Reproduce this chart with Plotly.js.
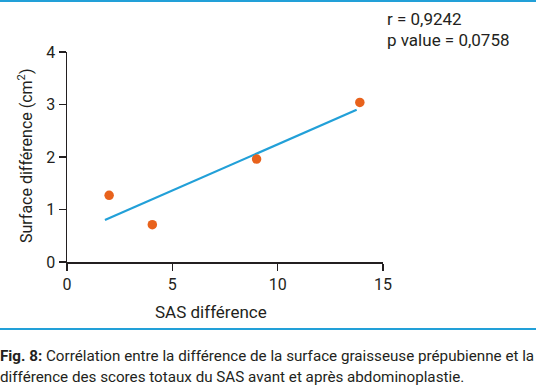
<!DOCTYPE html>
<html>
<head>
<meta charset="utf-8">
<script src="https://cdn.plot.ly/plotly-3.0.1.min.js"></script>
<style>html,body{margin:0;padding:0;background:#fff;}#chart{width:536px;height:386px;}</style>
</head>
<body>
<div id="chart"></div>
<script>
const sasDiff = [2, 4.05, 9, 13.9];
const surfaceDiff = [1.27, 0.71, 1.96, 3.04];
const fitX = [1.8, 13.75];
const fitY = [0.8, 2.9];
const xTicks = [0, 5, 10, 15];
const yTicks = [0, 1, 2, 3, 4];
const statsText = ['r = 0,9242', 'p value = 0,0758'];
const xTitle = 'SAS différence';
const yTitle = 'Surface différence (cm<sup>2</sup>)';
const caption1 = '<b>Fig. 8:</b> Corrélation entre la différence de la surface graisseuse prépubienne et la';
const caption2 = 'différence des scores totaux du SAS avant et après abdominoplastie.';

const W = 536, H = 386;
const px = x => x / W;
const py = y => 1 - y / H;
const FONT = 'Roboto, "DejaVu Sans", sans-serif';
const ORANGE = '#e8621c';
const BLUE = '#22a0d8';
const TXT = '#231f20';

const traces = [
  {x: fitX, y: fitY, mode: 'lines', line: {color: BLUE, width: 2.2}, hoverinfo: 'skip'},
  {x: sasDiff, y: surfaceDiff, mode: 'markers', marker: {color: ORANGE, size: 9.5}}
];

const layout = {
  width: W, height: H,
  margin: {l: 0, r: 0, t: 0, b: 0},
  paper_bgcolor: '#fff', plot_bgcolor: '#fff',
  showlegend: false,
  font: {family: FONT, color: TXT},
  xaxis: {
    domain: [px(67), px(383)], range: [0, 15],
    tickvals: xTicks, ticktext: xTicks.map(String),
    showgrid: false, zeroline: false, showline: true, linecolor: TXT, linewidth: 1.5,
    ticks: 'outside', ticklen: 7, tickwidth: 1.5, tickcolor: TXT,
    tickfont: {size: 16, color: TXT, family: FONT}
  },
  yaxis: {
    domain: [py(262), py(52)], range: [0, 4],
    tickvals: yTicks, ticktext: yTicks.map(String),
    showgrid: false, zeroline: false, showline: true, linecolor: TXT, linewidth: 1.5,
    ticks: 'outside', ticklen: 7, tickwidth: 1.5, tickcolor: TXT,
    tickfont: {size: 16, color: TXT, family: FONT}
  },
  shapes: [
    {type: 'rect', xref: 'paper', yref: 'paper', x0: 0, x1: 1, y0: py(2), y1: 1, fillcolor: BLUE, line: {width: 0}},
    {type: 'line', xref: 'paper', yref: 'paper', x0: 0, x1: 1, y0: py(329), y1: py(329), line: {color: BLUE, width: 2}}
  ],
  annotations: [
    {xref: 'paper', yref: 'paper', x: px(385), y: py(19), xanchor: 'left', yanchor: 'middle', text: statsText[0], showarrow: false, font: {size: 17, color: TXT}},
    {xref: 'paper', yref: 'paper', x: px(385), y: py(40), xanchor: 'left', yanchor: 'middle', text: statsText[1], showarrow: false, font: {size: 17, color: TXT}},
    {xref: 'paper', yref: 'paper', x: px(211), y: py(312), xanchor: 'center', yanchor: 'middle', text: xTitle, showarrow: false, font: {size: 17, color: TXT}},
    {xref: 'paper', yref: 'paper', x: px(25), y: py(156), xanchor: 'center', yanchor: 'middle', text: yTitle, textangle: -90, showarrow: false, font: {size: 16, color: TXT}},
    {xref: 'paper', yref: 'paper', x: px(-2), y: py(356), xanchor: 'left', yanchor: 'middle', text: caption1, showarrow: false, font: {size: 15.2, color: TXT}},
    {xref: 'paper', yref: 'paper', x: px(-2), y: py(377), xanchor: 'left', yanchor: 'middle', text: caption2, showarrow: false, font: {size: 15.2, color: TXT}}
  ]
};

Plotly.newPlot('chart', traces, layout, {staticPlot: true, displayModeBar: false});
</script>
</body>
</html>
